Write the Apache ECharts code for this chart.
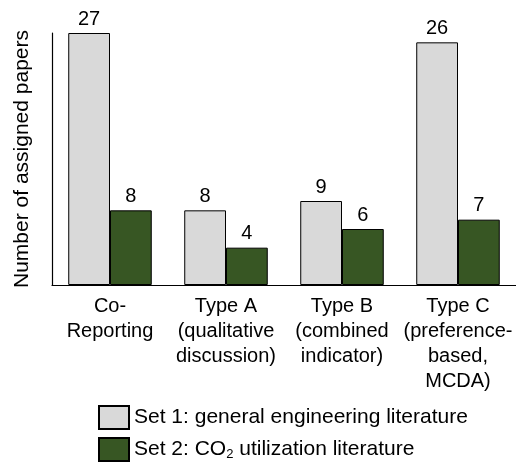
<!DOCTYPE html>
<html><head><meta charset="utf-8">
<script src="https://cdn.jsdelivr.net/npm/echarts@6/dist/echarts.min.js"></script>
<style>html,body{margin:0;padding:0;background:#fff}#c{width:516px;height:462px}</style>
</head><body><div id="c"></div>
<script>
const categories = ['Co-\nReporting', 'Type A\n(qualitative\ndiscussion)', 'Type B\n(combined\nindicator)', 'Type C\n(preference-\nbased,\nMCDA)'];
const set1Values = [27, 8, 9, 26];
const set2Values = [8, 4, 6, 7];
const seriesNames = ['Set 1: general engineering literature', 'Set 2: CO2 utilization literature'];
const font = 'Liberation Sans, Arial, sans-serif';
const fs = 20;

function legendFor(name, top) {
  return {
    left: 98, top: top, padding: 0, itemWidth: 30, itemHeight: 23, itemGap: 6,
    icon: 'rect',
    data: [name],
    textStyle: {fontSize: 21, color: '#000', fontFamily: font,
      rich: {sub: {fontSize: 13, lineHeight: 14, verticalAlign: 'bottom', color: '#000', fontFamily: font},
             n: {fontSize: 21, lineHeight: 23, color: '#000', fontFamily: font}}},
    formatter: function (n) {
      if (n.indexOf('CO2') >= 0) {
        return '{n|Set 2: CO}{sub|2}{n| utilization literature}';
      }
      return n;
    }
  };
}

const chart = echarts.init(document.getElementById('c'), null, {renderer: 'canvas'});
chart.setOption({
  animation: false,
  textStyle: {fontFamily: font},
  grid: {left: 52, right: 0, top: 33, bottom: 177},
  legend: [legendFor(seriesNames[0], 405), legendFor(seriesNames[1], 437)],
  xAxis: {
    type: 'category', data: categories,
    axisLine: {lineStyle: {color: '#000', width: 1.2}},
    axisTick: {show: false},
    axisLabel: {fontSize: fs, color: '#000', lineHeight: 25, margin: 9, interval: 0, fontFamily: font}
  },
  yAxis: {
    type: 'value', min: 0, max: 27,
    name: 'Number of assigned papers', nameLocation: 'middle', nameGap: 19,
    nameTextStyle: {fontSize: 21, color: '#000', fontFamily: font},
    axisLine: {show: true, lineStyle: {color: '#000', width: 1.2}},
    axisTick: {show: false}, axisLabel: {show: false}, splitLine: {show: false}
  },
  series: [
    {name: seriesNames[0], type: 'bar', data: set1Values, barGap: '0%', barCategoryGap: '28%',
     itemStyle: {color: '#d9d9d9', borderColor: '#000', borderWidth: 1},
     label: {show: true, position: 'top', fontSize: fs, color: '#000', distance: 4, fontFamily: font}},
    {name: seriesNames[1], type: 'bar', data: set2Values, barGap: '0%', barCategoryGap: '28%',
     itemStyle: {color: '#375623', borderColor: '#000', borderWidth: 1},
     label: {show: true, position: 'top', fontSize: fs, color: '#000', distance: 4, fontFamily: font}}
  ]
});
</script></body></html>
